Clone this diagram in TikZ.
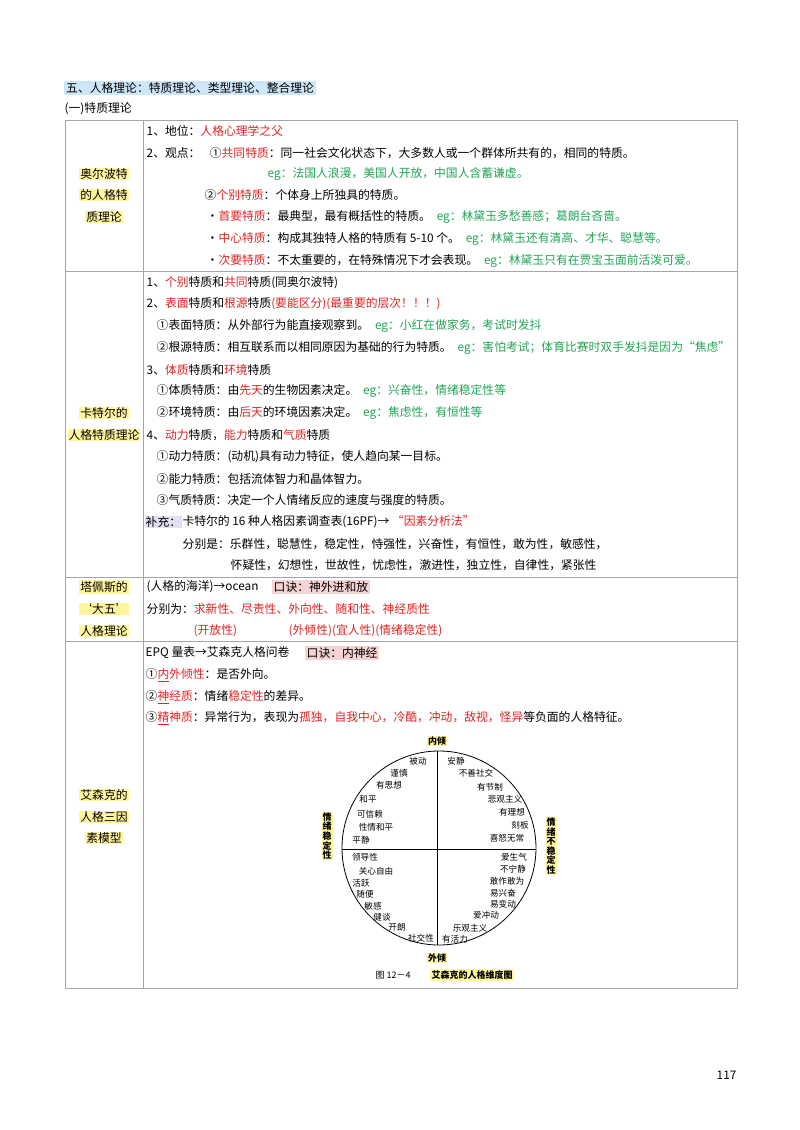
\documentclass[tikz,border=0pt]{standalone}
\usepackage{fontspec}
\setmainfont{Noto Sans CJK SC}
\definecolor{rd}{HTML}{E02222}
\definecolor{gn}{HTML}{22A455}
\definecolor{yl}{HTML}{FFF59D}
\definecolor{bl}{HTML}{CDE6F8}
\definecolor{pk}{HTML}{F6D3D3}
\definecolor{lv}{HTML}{E4E0F4}
\newcommand{\R}[1]{\textcolor{rd}{#1}}
\newcommand{\G}[1]{\textcolor{gn}{#1}}
\begin{document}
\begin{tikzpicture}[x=1pt,y=-1pt,
  tx/.style={anchor=west,inner sep=0.5pt,font=\fontsize{11.8}{13}\selectfont},
  lb/.style={inner sep=1pt,fill=yl,font=\fontsize{11.8}{13}\selectfont},
  cw/.style={inner sep=0pt,font=\fontsize{8.6}{9}\selectfont},
  grid/.style={draw=gray!70,line width=0.8pt}]
\useasboundingbox (0,0) rectangle (800,1130);
\node[tx,fill=bl,inner sep=2pt] (t0) at (64,88) {五、人格理论：特质理论、类型理论、整合理论};
\node[tx] (t1) at (64,109) {(一)特质理论};
% table
\draw[grid] (65,120) rectangle (737,988);
\draw[grid] (143,120) -- (143,988);
\foreach \y in {271,577,641} \draw[grid] (65,\y) -- (737,\y);
% row 1
\node[lb] (a1) at (104,174) {奥尔波特};
\node[lb] (a2) at (104,195) {的人格特};
\node[lb] (a3) at (104,217) {质理论};
\node[tx] (r11) at (146,131) {1、地位：\R{人格心理学之父}};
\node[tx] (r12) at (146,153) {2、观点：\hspace{0.8em}①\R{共同特质}：同一社会文化状态下，大多数人或一个群体所共有的，相同的特质。};
\node[tx] (r13) at (267,174) {\G{eg：法国人浪漫，美国人开放，中国人含蓄谦虚。}};
\node[tx] (r14) at (204,195) {②\R{个别特质}：个体身上所独具的特质。};
\node[tx] (r15) at (206,217) {·\R{首要特质}：最典型，最有概括性的特质。\hspace{0.5em}\G{eg：林黛玉多愁善感；葛朗台吝啬。}};
\node[tx] (r16) at (206,239) {·\R{中心特质}：构成其独特人格的特质有 5-10 个。\hspace{0.5em}\G{eg：林黛玉还有清高、才华、聪慧等。}};
\node[tx] (r17) at (206,261) {·\R{次要特质}：不太重要的，在特殊情况下才会表现。\hspace{0.5em}\G{eg：林黛玉只有在贾宝玉面前活泼可爱。}};
% row 2
\node[lb] (b1) at (104,413) {卡特尔的};
\node[lb] (b2) at (104,435) {人格特质理论};
\node[tx] (r21) at (146,283) {1、\R{个别}特质和\R{共同}特质(同奥尔波特)};
\node[tx] (r22) at (146,304) {2、\R{表面}特质和\R{根源}特质\R{(要能区分)(最重要的层次！！！)}};
\node[tx] (r23) at (156,326) {①表面特质：从外部行为能直接观察到。\hspace{0.5em}\G{eg：小红在做家务，考试时发抖}};
\node[tx] (r24) at (156,348) {②根源特质：相互联系而以相同原因为基础的行为特质。\hspace{0.5em}\G{eg：害怕考试；体育比赛时双手发抖是因为“焦虑”}};
\node[tx] (r25) at (146,370) {3、\R{体质}特质和\R{环境}特质};
\node[tx] (r26) at (156,391) {①体质特质：由\R{先天}的生物因素决定。\hspace{0.5em}\G{eg：兴奋性，情绪稳定性等}};
\node[tx] (r27) at (156,413) {②环境特质：由\R{后天}的环境因素决定。\hspace{0.5em}\G{eg：焦虑性，有恒性等}};
\node[tx] (r28) at (146,435) {4、\R{动力}特质，\R{能力}特质和\R{气质}特质};
\node[tx] (r29) at (156,457) {①动力特质：(动机)具有动力特征，使人趋向某一目标。};
\node[tx] (r2a) at (156,479) {②能力特质：包括流体智力和晶体智力。};
\node[tx] (r2b) at (156,500) {③气质特质：决定一个人情绪反应的速度与强度的特质。};
\node[tx,fill=lv] (r2c) at (145,522) {补充：};
\node[tx] (r2d) at (r2c.east) {卡特尔的 16 种人格因素调查表(16PF)→ \R{“因素分析法”}};
\node[tx] (r2e) at (182,544) {分别是：乐群性，聪慧性，稳定性，恃强性，兴奋性，有恒性，敢为性，敏感性，};
\node[tx] (r2f) at (230,565) {怀疑性，幻想性，世故性，忧虑性，激进性，独立性，自律性，紧张性};
% row 3
\node[lb] (c1) at (104,587) {塔佩斯的};
\node[lb] (c2) at (104,609) {‘大五’};
\node[lb] (c3) at (104,631) {人格理论};
\node[tx] (r31) at (146,587) {(人格的海洋)→ocean};
\node[tx,fill=pk,inner sep=1.5pt] (r31b) at (272,587) {口诀：神外进和放};
\node[tx] (r32) at (146,609) {分别为：\R{求新性、尽责性、外向性、随和性、神经质性}};
\node[tx] (r33) at (193,631) {\R{(开放性)}};
\node[tx] (r34) at (288,631) {\R{(外倾性)(宜人性)(情绪稳定性)}};
% row 4
\node[lb] (d1) at (104,795) {艾森克的};
\node[lb] (d2) at (104,817) {人格三因};
\node[lb] (d3) at (104,838) {素模型};
\node[tx] (r41) at (145,653) {EPQ 量表→艾森克人格问卷};
\node[tx,fill=pk,inner sep=1.5pt] (r41b) at (305,653) {口诀：内神经};
\node[tx] (r42) at (145,675) {①\R{\underline{内}外倾性}：是否外向。};
\node[tx] (r43) at (145,697) {②\R{\underline{神}经质}：情绪\R{稳定性}的差异。};
\node[tx] (r44) at (145,718) {③\R{\underline{精}神质}：异常行为，表现为\R{孤独，自我中心，冷酷，冲动，敌视，怪异}等负面的人格特征。};
% circle figure
\draw[line width=0.8pt] (439,848) circle (97);
\draw[line width=0.6pt] (437,751) -- (437,945) (342,849) -- (536,849);
\node[cw,fill=yl,inner sep=1pt,font=\fontsize{9}{10}\selectfont\bfseries] (in) at (437,741) {内倾};
\node[cw,fill=yl,inner sep=1pt,font=\fontsize{9}{10}\selectfont\bfseries] (out) at (437,958) {外倾};
\node[cw,fill=yl,inner sep=1pt,align=center,font=\fontsize{9}{9.6}\selectfont\bfseries] (ls) at (327,836) {情\\绪\\稳\\定\\性};
\node[cw,fill=yl,inner sep=1pt,align=center,font=\fontsize{9}{9.6}\selectfont\bfseries] (rs) at (551,846) {情\\绪\\不\\稳\\定\\性};
\node[cw,font=\fontsize{9}{10}\selectfont] (cap1) at (393,975) {图 12－4};
\node[cw,fill=yl,inner sep=1.5pt,font=\fontsize{9}{10}\selectfont\bfseries] (cap2) at (472,975) {艾森克的人格维度图};
\foreach \t/\x/\y in {被动/418/761,谨慎/399/773,有思想/389/785,和平/368/799,可信赖/370/814,性情和平/376/827,平静/361/840,
  安静/456/761,不善社交/476/773,有节制/490/787,悲观主义/505/799,有理想/512/812,刻板/520/825,喜怒无常/507/838,
  领导性/365/857,关心自由/376/871,活跃/361/883,随便/365/894,敏感/373/906,健谈/382/917,开朗/397/927,社交性/421/938,
  爱生气/514/857,不宁静/513/869,敢作敢为/507/881,易兴奋/503/893,易变动/503/904,爱冲动/486/915,乐观主义/470/928,有活力/455/939}
  \node[cw] at (\x,\y) {\t};
\node[tx] (pg) at (716,1075) {117};
\end{tikzpicture}
\end{document}
